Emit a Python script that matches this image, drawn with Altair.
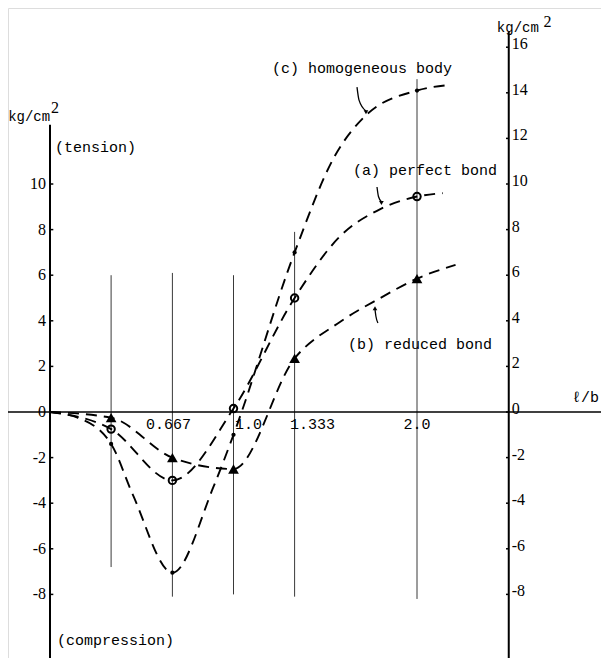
import altair as alt
import pandas as pd

# ---------------- data ----------------
x_stations = [0.333, 0.667, 1.0, 1.333, 2.0]
x_labels = ["0.667", "1.0", "1.333", "2.0"]
x_label_pos = [0.667, 1.0, 1.333, 2.0]

homog_pts = [-1.4, -7.05, -1.0, 7.0, 14.1]      # (c) homogeneous body, dots
perfect_pts = [-0.75, -3.0, 0.15, 5.0, 9.45]    # (a) perfect bond, circles
reduced_pts = [-0.25, -2.0, -2.5, 2.35, 5.85]   # (b) reduced bond, triangles

# curve traces (station values plus points)
homog_cx = [0.0, 0.15, 0.333, 0.45, 0.667, 0.89, 1.0, 1.333, 1.55, 1.72, 2.0, 2.18]
homog_cy = [0.0, -0.25, -1.4, -3.6, -7.05, -3.3, -1.0, 7.0, 11.2, 13.0, 14.1, 14.35]
perfect_cx = [0.0, 0.333, 0.667, 1.0, 1.333, 1.58, 1.8, 2.0, 2.14]
perfect_cy = [0.0, -0.75, -3.0, 0.15, 5.0, 7.7, 8.9, 9.45, 9.6]
reduced_cx = [0.0, 0.333, 0.667, 1.0, 1.333, 1.58, 1.8, 2.0, 2.21]
reduced_cy = [0.0, -0.25, -2.0, -2.5, 2.35, 3.95, 5.0, 5.85, 6.45]

# vertical station lines: top / bottom values
vline_top = [6.0, 6.1, 6.0, 7.9, 14.6]
vline_bot = [-6.8, -8.1, -8.0, -8.1, -8.2]

left_ticks = [-8, -6, -4, -2, 0, 2, 4, 6, 8, 10]
right_ticks = [-8, -6, -4, -2, 0, 2, 4, 6, 8, 10, 12, 14, 16]

# ---------------- layout constants ----------------
X0, X1 = -0.2289, 3.0027
Y0, Y1 = -10.79, 17.72
W, H = 593, 650
RIGHT_AXIS_X = 2.5
FONT = "Liberation Mono"
NUMFONT = "Liberation Serif"

xs = alt.Scale(domain=[X0, X1], nice=False, zero=False)
ys = alt.Scale(domain=[Y0, Y1], nice=False, zero=False)


def X(f):
    return alt.X(f, type="quantitative", scale=xs, axis=None)


def Y(f):
    return alt.Y(f, type="quantitative", scale=ys, axis=None)


# station vertical lines
vl = pd.DataFrame({"x": x_stations, "y": vline_top, "y2": vline_bot})
vlines = alt.Chart(vl).mark_rule(color="#3a3a3a", strokeWidth=1).encode(
    x=X("x"), y=Y("y"), y2="y2")

# axes lines
ax_v = pd.DataFrame({"x": [0.0, RIGHT_AXIS_X], "y": [12.6, 16.67], "y2": [Y0, Y0]})
axes_v = alt.Chart(ax_v).mark_rule(color="black", strokeWidth=2).encode(
    x=X("x"), y=Y("y"), y2="y2")
ax_h = pd.DataFrame({"x": [X0], "x2": [X1], "y": [0.0]})
axes_h = alt.Chart(ax_h).mark_rule(color="black", strokeWidth=1.6).encode(
    x=X("x"), x2="x2", y=Y("y"))

# ticks
lt = pd.DataFrame({"x": [0.0] * len(left_ticks), "x2": [0.018] * len(left_ticks), "y": left_ticks})
rt = pd.DataFrame({"x": [RIGHT_AXIS_X - 0.015] * len(right_ticks), "x2": [RIGHT_AXIS_X] * len(right_ticks), "y": right_ticks})
lticks = alt.Chart(lt).mark_rule(color="black", strokeWidth=1.5).encode(x=X("x"), x2="x2", y=Y("y"))
rticks = alt.Chart(rt).mark_rule(color="black", strokeWidth=1.5).encode(x=X("x"), x2="x2", y=Y("y"))

llab_df = pd.DataFrame({"x": [0.0] * len(left_ticks), "y": left_ticks, "t": [str(v) for v in left_ticks]})
llab = alt.Chart(llab_df).mark_text(font=NUMFONT, fontSize=16, align="right", baseline="middle", dx=-4).encode(
    x=X("x"), y=Y("y"), text="t:N")
rlab_df = pd.DataFrame({"x": [RIGHT_AXIS_X] * len(right_ticks), "y": right_ticks, "t": [str(v) for v in right_ticks]})
rlab = alt.Chart(rlab_df).mark_text(font=NUMFONT, fontSize=16, align="left", baseline="middle", dx=3, dy=-3).encode(
    x=X("x"), y=Y("y"), text="t:N")

# x labels
xlab_layers = []
xlab_dx = [-4, 15, 18, 0]
for lab, pos, dx in zip(x_labels, x_label_pos, xlab_dx):
    d = pd.DataFrame({"x": [pos], "y": [0.0], "t": [lab]})
    xlab_layers.append(alt.Chart(d).mark_text(font=FONT, fontSize=15, align="center", baseline="middle",
                                             dx=dx, dy=12).encode(x=X("x"), y=Y("y"), text="t:N"))

# x-axis variable name at the right end
xname = alt.Chart(pd.DataFrame({"x": [X1], "y": [0.0], "t": ["ℓ/b"]})).mark_text(
    font=FONT, fontSize=15, align="right", baseline="middle", dx=-2, dy=-15).encode(
    x=X("x"), y=Y("y"), text="t:N")


# curves
def curve(cx, cy):
    d = pd.DataFrame({"x": cx, "y": cy})
    return alt.Chart(d).mark_line(color="black", strokeWidth=1.9, strokeDash=[11, 7],
                                  interpolate="monotone").encode(x=X("x"), y=Y("y"))


curves = [curve(homog_cx, homog_cy), curve(perfect_cx, perfect_cy), curve(reduced_cx, reduced_cy)]

# markers
dots = alt.Chart(pd.DataFrame({"x": x_stations, "y": homog_pts})).mark_point(
    shape="circle", filled=True, color="black", size=18, opacity=1).encode(x=X("x"), y=Y("y"))
circs = alt.Chart(pd.DataFrame({"x": x_stations, "y": perfect_pts})).mark_point(
    shape="circle", filled=False, color="black", size=55, strokeWidth=2, opacity=1).encode(x=X("x"), y=Y("y"))
tris = alt.Chart(pd.DataFrame({"x": x_stations, "y": reduced_pts})).mark_point(
    shape="triangle-up", filled=True, color="black", size=115, opacity=1).encode(x=X("x"), y=Y("y"))

# annotation texts
ann_text = ["(c) homogeneous body", "(a) perfect bond", "(b) reduced bond", "(tension)", "(compression)"]
ann_x = [1.21, 1.651, 1.624, 0.027, 0.038]
ann_y = [15.09, 10.61, 2.98, 11.62, -10.0]
ann = alt.Chart(pd.DataFrame({"x": ann_x, "y": ann_y, "t": ann_text})).mark_text(
    font=FONT, fontSize=15, align="left", baseline="middle").encode(x=X("x"), y=Y("y"), text="t:N")

unit_text = ["kg/cm", "kg/cm"]
unit_x = [-0.228, 2.435]
unit_y = [12.95, 16.85]
units = alt.Chart(pd.DataFrame({"x": unit_x, "y": unit_y, "t": unit_text})).mark_text(
    font=FONT, fontSize=14, align="left", baseline="middle").encode(x=X("x"), y=Y("y"), text="t:N")
sup_x = [0.005, 2.69]
sup_y = [13.35, 17.12]
sups = alt.Chart(pd.DataFrame({"x": sup_x, "y": sup_y, "t": ["2", "2"]})).mark_text(
    font=NUMFONT, fontSize=16, align="left", baseline="middle").encode(x=X("x"), y=Y("y"), text="t:N")

# arrows (curved leader shafts + heads)
arrow_layers = []
arr_shafts = [
    ([1.673, 1.684, 1.722], [14.25, 13.68, 13.2]),
    ([1.782, 1.79, 1.806], [9.87, 9.45, 9.22]),
    ([1.787, 1.776, 1.771], [3.9, 4.2, 4.5]),
]
for ax_, ay_ in arr_shafts:
    arrow_layers.append(alt.Chart(pd.DataFrame({"x": ax_, "y": ay_, "o": list(range(len(ax_)))})).mark_line(
        color="black", strokeWidth=1.3, interpolate="monotone").encode(x=X("x"), y=Y("y"), order="o:O"))
head_x = [1.722, 1.806, 1.771]
head_y = [13.15, 9.17, 4.55]
head_shape = ["triangle-down", "triangle-down", "triangle-up"]
for hx, hy, hs in zip(head_x, head_y, head_shape):
    arrow_layers.append(alt.Chart(pd.DataFrame({"x": [hx], "y": [hy]})).mark_point(
        shape=hs, filled=True, color="black", size=22, opacity=1).encode(x=X("x"), y=Y("y")))

chart = alt.layer(
    vlines, axes_v, axes_h, lticks, rticks, llab, rlab, *xlab_layers, xname,
    *curves, dots, circs, tris, ann, units, sups, *arrow_layers
).properties(width=W, height=H, padding=0, autosize=alt.AutoSizeParams(type="none")
).configure_view(stroke=None).configure(background="white")

chart.save("out.html", embed_options={"renderer": "svg", "actions": False})
